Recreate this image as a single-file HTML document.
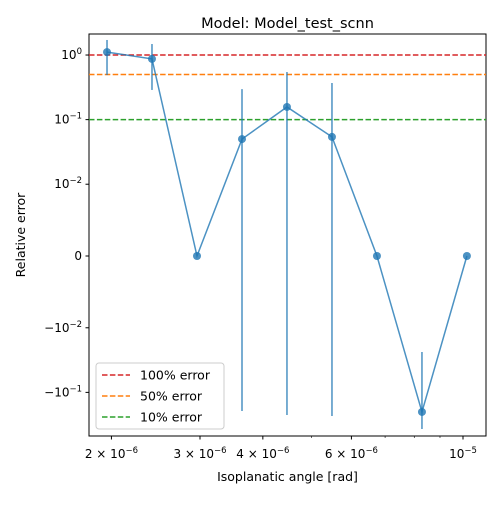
<!DOCTYPE html>
<html><head><meta charset="utf-8"><style>
body{margin:0;background:#fff;}
svg text{font-family:"DejaVu Sans","Liberation Sans",sans-serif;fill:#000;}
</style></head><body>
<svg id="chart" width="500" height="500" xmlns="http://www.w3.org/2000/svg"></svg>
<script>
const xValues=[1.96e-6,2.408e-6,2.959e-6,3.636e-6,4.467e-6,5.489e-6,6.744e-6,8.287e-6,1.018e-5];
const yValues=[1.11,0.87,0,0.05,0.157,0.054,0,-0.201,0];
const yLower=[0.49,0.288,0,-0.194,-0.224,-0.232,0,-0.369,0];
const yUpper=[1.71,1.48,0,0.297,0.545,0.369,0,-0.0237,0];
const refValues=[1.0,0.5,0.1];
const refLabels=["100% error","50% error","10% error"];
const refColors=["#d62728","#ff7f0e","#2ca02c"];
const xMajorTicks=[2e-6,3e-6,4e-6,6e-6,1e-5];
const xMajorMant=["2","3","4","6",""];
const xMinorTicks=[5e-6,7e-6,8e-6,9e-6];
const yTicks=[1,0.1,0.01,0,-0.01,-0.1];
const yTickLabels=[["10","0"],["10","−1"],["10","−2"],["0",""],["−10","−2"],["−10","−1"]];

const L=89,R=486,T=34,B=436;
const NS="http://www.w3.org/2000/svg";
const svg=document.getElementById('chart');
function el(tag,attrs,parent){const e=document.createElementNS(NS,tag);for(const k in attrs)e.setAttribute(k,attrs[k]);(parent||svg).appendChild(e);return e;}
const xPerDec=503, x3=200;
function xs(v){return x3+Math.log10(v/3e-6)*xPerDec;}
const lt=0.01, ls=1/(1-0.1);
function symT(v){const a=Math.abs(v);if(a<=lt)return v/lt*ls;return Math.sign(v)*(ls+Math.log10(a/lt));}
const y0=256, yPer=64.6;
function ys(v){return y0-symT(v)*yPer;}

const frame=el('rect',{x:L,y:T,width:R-L,height:B-T,fill:'none',stroke:'#000','stroke-width':1});


refValues.forEach((v,i)=>{const ln=el('line',{x1:L,x2:R,y1:ys(v),y2:ys(v),stroke:refColors[i],'stroke-width':1.5,'stroke-dasharray':'5.5,2.4'});
});

xValues.forEach((x,i)=>{if(yLower[i]===yUpper[i])return;const e=el('line',{x1:xs(x),x2:xs(x),y1:ys(yLower[i]),y2:ys(yUpper[i]),stroke:'#1f77b4','stroke-opacity':0.8,'stroke-width':1.5});
});
const pl=el('polyline',{points:xValues.map((x,i)=>xs(x)+','+ys(yValues[i])).join(' '),fill:'none',stroke:'#1f77b4','stroke-opacity':0.8,'stroke-width':1.5});

xValues.forEach((x,i)=>{const c=el('circle',{cx:xs(x),cy:ys(yValues[i]),r:4,fill:'#1f77b4','fill-opacity':0.8});
});

xMajorTicks.forEach((v,i)=>{const px=xs(v);el('line',{x1:px,x2:px,y1:B,y2:B+3.5,stroke:'#000'});
const t=el('text',{x:px,y:B+22,'font-size':12,'text-anchor':'middle'});

t.textContent=xMajorMant[i]?xMajorMant[i]+' × 10':'10';
const s=el('tspan',{'font-size':8.5,dy:-5},t);s.textContent=(xMajorMant[i]?'−6':'−5');});
xMinorTicks.forEach(v=>{const px=xs(v);el('line',{x1:px,x2:px,y1:B,y2:B+2,stroke:'#000','stroke-width':0.6});});
yTicks.forEach((v,i)=>{const py=ys(v);el('line',{x1:L-3.5,x2:L,y1:py,y2:py,stroke:'#000'});
const t=el('text',{x:L-7,y:py+4,'font-size':12,'text-anchor':'end'});

t.textContent=yTickLabels[i][0];
if(yTickLabels[i][1]){t.textContent='';const a=el('tspan',{},t);a.textContent=yTickLabels[i][0];const s=el('tspan',{'font-size':8.5,dy:-5},t);s.textContent=yTickLabels[i][1];}});

const title=el('text',{x:(L+R)/2,y:28,'font-size':14.5,'text-anchor':'middle'});title.textContent='Model: Model_test_scnn';

const xl=el('text',{x:(L+R)/2,y:481,'font-size':12.5,'text-anchor':'middle'});xl.textContent='Isoplanatic angle [rad]';

const yl=el('text',{x:0,y:0,'font-size':12.5,'text-anchor':'middle',transform:'translate(25,235) rotate(-90)'});yl.textContent='Relative error';


const lg=el('g',{});
el('rect',{x:96,y:363,width:128,height:66,rx:3,fill:'#fff','fill-opacity':0.8,stroke:'#ccc'},lg);
refLabels.forEach((lab,i)=>{const yy=375+i*21;
el('line',{x1:102,x2:130,y1:yy,y2:yy,stroke:refColors[i],'stroke-width':1.5,'stroke-dasharray':'5.5,2.4'},lg);
const t=el('text',{x:140,y:yy+4.5,'font-size':12.5},lg);t.textContent=lab;
});
</script>
</body></html>
